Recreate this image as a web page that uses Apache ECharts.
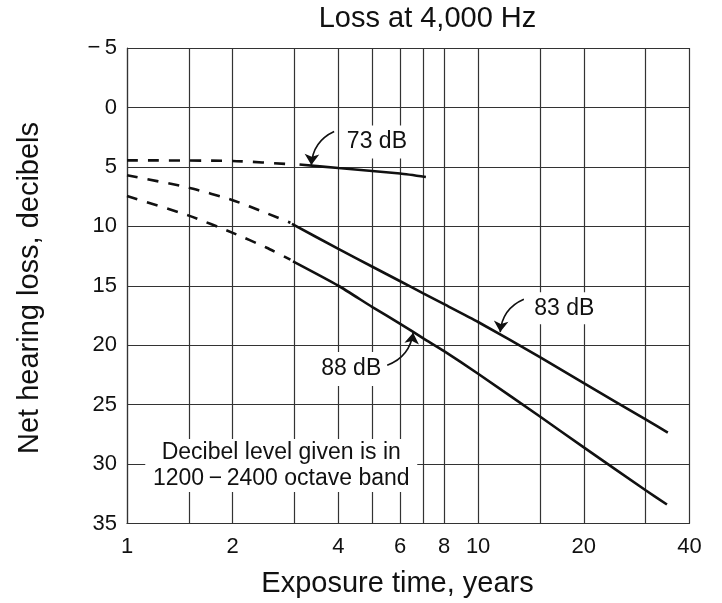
<!DOCTYPE html>
<html><head><meta charset="utf-8">
<script src="https://cdn.jsdelivr.net/npm/echarts@6/dist/echarts.min.js"></script>
<style>html,body{margin:0;padding:0;background:#fff}#c{width:722px;height:603px}</style>
</head><body><div id="c"></div>
<script>
// ---- data ----
const xGridValues = [1, 1.5, 2, 3, 4, 5, 6, 7, 8, 10, 15, 20, 30, 40];
const xTickLabels = [1, 2, 4, 6, 8, 10, 20, 40];
const yMin = -5, yMax = 35, yStep = 5;

const db73Dashed = [[1, 4.45], [2, 4.5], [3, 4.8]];
const db73Solid  = [[3.1, 4.8], [4, 5.1], [6, 5.56], [7.1, 5.85]];
const db83Dashed = [[1, 5.7], [1.5, 6.75], [2, 7.8], [2.5, 8.9], [2.92, 9.7]];
const db83Solid  = [[2.95, 9.8], [4, 11.9], [5, 13.4], [6, 14.62], [7, 15.66], [8, 16.55], [10, 18.05], [15, 21.0], [20, 23.2], [30, 26.25], [34.7, 27.35]];
const db88Dashed = [[1, 7.45], [1.5, 9.1], [2, 10.55], [2.5, 11.8], [2.92, 12.8]];
const db88Solid  = [[2.97, 12.95], [4, 15.0], [5, 16.8], [6, 18.2], [7, 19.45], [8, 20.5], [10, 22.4], [15, 26.0], [20, 28.6], [30, 32.2], [34.5, 33.4]];

const labelTexts = ['73 dB', '83 dB', '88 dB'];
const labelAnchors = [[5.15, 2.9], [17.6, 16.9], [4.35, 22.0]];
const arrowFrom = [[3.89, 2.02], [13.5, 16.13], [5.51, 21.69]];
const arrowTo   = [[3.35, 4.85], [11.56, 18.9], [6.53, 18.95]];
const noteText = 'Decibel level given is in\n1200\u2009\u2212\u20092400 octave band';
const noteAnchor = [2.75, 30.13];

// ---- chart ----
const FONT = '"Liberation Sans", Arial, Helvetica, sans-serif';
const INK = '#111';
const gridLine = {color: '#333', width: 1.2};

const chart = echarts.init(document.getElementById('c'), null, {renderer: 'canvas'});

function lineSeries(name, data, dashed, extra) {
  return Object.assign({
    type: 'line', name, data, symbol: 'none', silent: true, smooth: 0.2,
    lineStyle: {color: INK, width: 2.6, type: dashed ? [11, 10] : 'solid', cap: 'butt'},
    z: 5
  }, extra || {});
}

function boxLabel(text, coord, size) {
  return {
    coord, value: text, symbol: 'rect', symbolSize: size,
    itemStyle: {color: '#fff'},
    label: {show: true, position: 'inside', formatter: text, color: INK,
            fontSize: 23, fontFamily: FONT, lineHeight: 26}
  };
}

const markPointData = [
  boxLabel(labelTexts[0], labelAnchors[0], [74, 33]),
  boxLabel(labelTexts[1], labelAnchors[1], [72, 32]),
  boxLabel(labelTexts[2], labelAnchors[2], [72, 34]),
  boxLabel(noteText, noteAnchor, [272, 53])
];

const arrowData = arrowFrom.map((f, i) => ({coords: [f, arrowTo[i]]}));

const option = {
  animation: false,
  backgroundColor: '#fff',
  grid: {left: 127, right: 32.5, top: 48, bottom: 79.5, outerBoundsMode: 'none'},
  xAxis: {
    type: 'log', logBase: 10, min: 1, max: 40,
    axisLine: {show: true, onZero: false, lineStyle: gridLine},
    axisTick: {show: false, customValues: xGridValues},
    axisLabel: {customValues: xTickLabels, fontSize: 22, color: INK, fontFamily: FONT, margin: 12},
    splitLine: {show: true, lineStyle: gridLine},
    minorSplitLine: {show: false}
  },
  yAxis: {
    type: 'value', inverse: true, min: yMin, max: yMax, interval: yStep,
    axisLine: {show: true, onZero: false, lineStyle: gridLine},
    axisTick: {show: false},
    axisLabel: {fontSize: 22, color: INK, fontFamily: FONT, margin: 10,
      formatter: v => v < 0 ? '\u2212\u2009' + (-v) : String(v)},
    splitLine: {show: true, lineStyle: gridLine}
  },
  series: [
    lineSeries('73 dB extrapolated', db73Dashed, true),
    lineSeries('73 dB', db73Solid, false),
    lineSeries('83 dB extrapolated', db83Dashed, true),
    lineSeries('83 dB', db83Solid, false, {
      markPoint: {silent: true, data: markPointData, z: 4}
    }),
    lineSeries('88 dB extrapolated', db88Dashed, true),
    lineSeries('88 dB', db88Solid, false),
    {
      type: 'lines', coordinateSystem: 'cartesian2d', silent: true, z: 6,
      symbol: ['none', 'arrow'], symbolSize: 11,
      lineStyle: {color: INK, width: 1.6, type: 'solid', curveness: -0.3, opacity: 1},
      itemStyle: {color: INK},
      data: arrowData
    }
  ],
  graphic: [
    {type: 'text', x: 427.5, y: 19, style: {text: 'Loss at 4,000 Hz', font: '29px ' + FONT, fill: INK, align: 'center', verticalAlign: 'middle'}},
    {type: 'text', x: 397.5, y: 584, style: {text: 'Exposure time, years', font: '29px ' + FONT, fill: INK, align: 'center', verticalAlign: 'middle'}},
    {type: 'text', x: 30, y: 288, rotation: Math.PI / 2, style: {text: 'Net hearing loss, decibels', font: '29px ' + FONT, fill: INK, align: 'center', verticalAlign: 'middle'}}
  ]
};
chart.setOption(option);
</script>
</body></html>
